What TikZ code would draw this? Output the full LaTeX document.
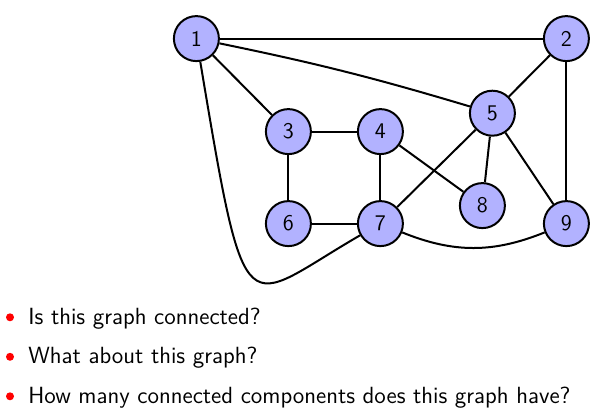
\documentclass[tikz,border=0pt]{standalone}
\usetikzlibrary{positioning}
\tikzstyle{vertex} = [circle, line width=1pt, draw=black, fill=blue!30, minimum size=22.5pt, inner sep=0pt, font=\sffamily\fontsize{11.2}{13}\selectfont]
\tikzstyle{edge} = [line width=1pt]
\tikzstyle{bullet} = [circle, fill=red, minimum size=4pt, inner sep=0pt]
\tikzstyle{item} = [anchor=base west, inner sep=0pt, font=\sffamily\fontsize{11.7}{14}\selectfont]
\begin{document}
\begin{tikzpicture}[node distance=46pt, on grid]
		\useasboundingbox (0,0) rectangle (302.5pt,-209pt);
		\node (n1) [vertex] at (98.2pt,-19.3pt) {1};
		\node (n3) [vertex, below right=46.5pt and 46pt of n1] {3};
		\node (n4) [vertex, right=of n3] {4};
		\node (n6) [vertex, below=of n3] {6};
		\node (n7) [vertex, right=of n6] {7};
		\node (n2) [vertex, right=185pt of n1] {2};
		\node (n9) [vertex, below=92.5pt of n2] {9};
		\node (n5) [vertex, below left=37.3pt and 37pt of n2] {5};
		\node (n8) [vertex, above left=9pt and 42pt of n9] {8};
		\draw [edge] (n1) -- (n2);
		\draw [edge] (n1) -- (n3);
		\draw [edge] (n1) to[bend left=2.5] (n5);
		\draw [edge] (n1) .. controls +(-80.5:152pt) and +(210:80pt) .. (n7);
		\draw [edge] (n2) -- (n5);
		\draw [edge] (n2) -- (n9);
		\draw [edge] (n3) -- (n4);
		\draw [edge] (n3) -- (n6);
		\draw [edge] (n4) -- (n7);
		\draw [edge] (n4) -- (n8);
		\draw [edge] (n5) -- (n7);
		\draw [edge] (n5) -- (n8);
		\draw [edge] (n5) -- (n9);
		\draw [edge] (n6) -- (n7);
		\draw [edge] (n7) to[bend right=22] (n9);
		% questions
		\node (q1) [item] at (14pt,-162pt) {Is this graph connected?};
		\node (q2) [item] at (14pt,-181.75pt) {What about this graph?};
		\node (q3) [item] at (14pt,-201.5pt) {How many connected components does this graph have?};
		\node (b1) [bullet] at (5pt,-158.65pt) {};
		\node (b2) [bullet] at (5pt,-178.4pt) {};
		\node (b3) [bullet] at (5pt,-198.15pt) {};
	\end{tikzpicture}
\end{document}
